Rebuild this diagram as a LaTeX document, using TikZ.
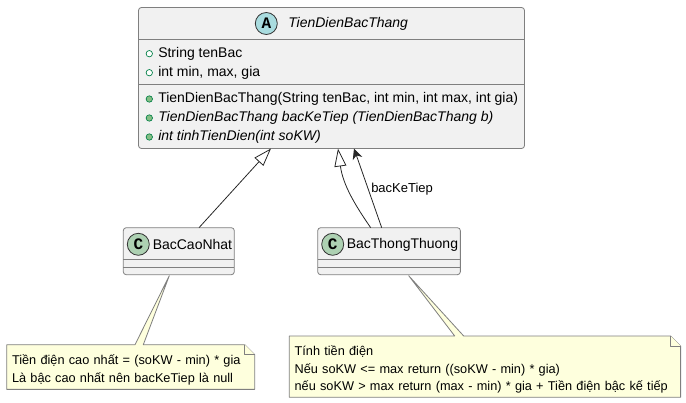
\documentclass[tikz,border=0pt]{standalone}
\usepackage{fontspec}
\setmainfont{Liberation Sans}
\setmonofont{Liberation Mono}
\usetikzlibrary{arrows.meta, backgrounds, calc}
\definecolor{classfill}{HTML}{F1F1F1}
\definecolor{classline}{HTML}{7F7F7F}
\definecolor{notefill}{HTML}{FEFFDD}
\definecolor{spotC}{HTML}{ADD1B2}
\definecolor{spotA}{HTML}{A9DCDF}
\definecolor{markline}{HTML}{038048}
\definecolor{markfill}{HTML}{84BE84}
\tikzset{
    classbox/.style={draw=classline, fill=classfill, line width=0.6pt, rounded corners=2.2pt,
        anchor=north west, inner sep=0pt, outer sep=0pt},
    spot/.style={circle, draw=black!80, line width=0.6pt, minimum size=16.5pt, inner sep=0pt,
        font=\fontsize{12}{12}\ttfamily\bfseries},
    member/.style={anchor=west, inner sep=0pt, font=\fontsize{10.5}{13}\selectfont},
    openmark/.style={circle, draw=markline, fill=white, line width=0.5pt, minimum size=4.8pt, inner sep=0pt},
    fullmark/.style={circle, draw=markline, fill=markfill, line width=0.5pt, minimum size=4.8pt, inner sep=0pt},
    notebox/.style={anchor=north west, inner xsep=4pt, inner ysep=0pt, outer sep=0pt, align=left,
        font=\fontsize{9.55}{13}\selectfont, execute at begin node={\rule{0pt}{11.5pt}}},
    noteline/.style={draw=classline, fill=notefill, line width=0.6pt, line join=round},
    link/.style={draw=black!85, line width=0.6pt},
    inherit/.style={link, -{Triangle[open, length=13.5pt, width=9pt]}},
    assoc/.style={link, -{Stealth[length=8pt, width=7.5pt, inset=2.5pt]}}
}
\begin{document}
\begin{tikzpicture}[x=0.75pt, y=-0.75pt]
    \useasboundingbox (0, 0) rectangle (686, 403);

    % abstract class
    \node[classbox, minimum width=289.5pt, minimum height=105.75pt] (tienDien) at (138.5, 7.5) {};
    \draw[classline, line width=0.6pt] (138.5, 39.5) -- (524.5, 39.5);
    \draw[classline, line width=0.6pt] (138.5, 84.5) -- (524.5, 84.5);
    \node[spot, fill=spotA] (spotTienDien) at (266.3, 23.5) {A};
    \node[member, font=\fontsize{10.5}{13}\itshape] (nameTienDien) at (288, 24) {TienDienBacThang};
    \foreach \y/\name/\txt in {53.7/tenBac/String tenBac, 72.7/minMax/int min{,} max{,} gia} {
        \node[openmark] (mark\name) at (149.3, \y) {};
        \node[member] (field\name) at (158, \y) {\txt};
    }
    \node[fullmark] (markCtor) at (149.3, 99) {};
    \node[member] (ctor) at (158, 99) {TienDienBacThang(String tenBac, int min, int max, int gia)};
    \node[fullmark] (markNext) at (149.3, 118) {};
    \node[member] (next) at (158, 118) {\itshape TienDienBacThang bacKeTiep (TienDienBacThang b)};
    \node[fullmark] (markTinh) at (149.3, 137) {};
    \node[member] (tinh) at (158, 137) {\itshape int tinhTienDien(int soKW)};

    % subclasses
    \node[classbox, minimum width=83.25pt, minimum height=35.25pt] (caoNhat) at (123.3, 227.7) {};
    \draw[classline, line width=0.6pt] (123.3, 259) -- (234.3, 259);
    \draw[classline, line width=0.6pt] (123.3, 267) -- (234.3, 267);
    \node[spot, fill=spotC] (spotCaoNhat) at (138.3, 244.3) {C};
    \node[member] (nameCaoNhat) at (152.5, 244.5) {BacCaoNhat};

    \node[classbox, minimum width=107pt, minimum height=35.25pt] (thongThuong) at (317.7, 227.7) {};
    \draw[classline, line width=0.6pt] (317.7, 259) -- (460.3, 259);
    \draw[classline, line width=0.6pt] (317.7, 267) -- (460.3, 267);
    \node[spot, fill=spotC] (spotThongThuong) at (332.7, 244.3) {C};
    \node[member] (nameThongThuong) at (346.5, 244.5) {BacThongThuong};

    % connector ends
    \coordinate (tipCaoNhat) at (271, 148.5);
    \coordinate (tipThongThuong) at (338, 148.5);
    \coordinate (tipBacKe) at (354, 148.5);
    \coordinate (fromCaoNhat) at (199, 227.7);
    \coordinate (fromThongThuong) at (370.7, 227.7);
    \coordinate (fromBacKe) at (381.7, 227.7);

    \draw[inherit] (fromCaoNhat) -- (tipCaoNhat);
    \draw[inherit] (fromThongThuong) .. controls (355, 205) and (343, 185) .. (tipThongThuong);
    \draw[assoc] (fromBacKe) -- (tipBacKe);
    \node[member, font=\fontsize{9.75}{12}\selectfont] (labelBacKe) at (371, 189) {bacKeTiep};

    % notes
    \node[notebox, text width=178pt, minimum height=33.5pt] (noteCaoNhat) at (6.7, 344.7)
        {Tiền điện cao nhất = (soKW - min) * gia\\Là bậc cao nhất nên bacKeTiep là null};
    \node[notebox, text width=285.5pt, minimum height=46pt] (noteThongThuong) at (289.3, 336)
        {Tính tiền điện\\Nếu soKW <= max return ((soKW - min) * gia)\\nếu soKW > max return (max - min) * gia + Tiền điện bậc kế tiếp};
    \begin{scope}[on background layer]
        \draw[noteline] (noteCaoNhat.north west) -- (135, 344.7) -- (169.3, 275.7) -- (143.3, 344.7)
            -- ($(noteCaoNhat.north east)+(-10, 0)$) -- ($(noteCaoNhat.north east)+(0, 10)$)
            -- (noteCaoNhat.south east) -- (noteCaoNhat.south west) -- cycle;
        \draw[noteline] ($(noteCaoNhat.north east)+(-10, 0)$) -- ($(noteCaoNhat.north east)+(-10, 10)$)
            -- ($(noteCaoNhat.north east)+(0, 10)$);
        \draw[noteline] (noteThongThuong.north west) -- (454.7, 336) -- (408.7, 275.7) -- (463.7, 336)
            -- ($(noteThongThuong.north east)+(-10, 0)$) -- ($(noteThongThuong.north east)+(0, 10)$)
            -- (noteThongThuong.south east) -- (noteThongThuong.south west) -- cycle;
        \draw[noteline] ($(noteThongThuong.north east)+(-10, 0)$) -- ($(noteThongThuong.north east)+(-10, 10)$)
            -- ($(noteThongThuong.north east)+(0, 10)$);
    \end{scope}
\end{tikzpicture}
\end{document}
